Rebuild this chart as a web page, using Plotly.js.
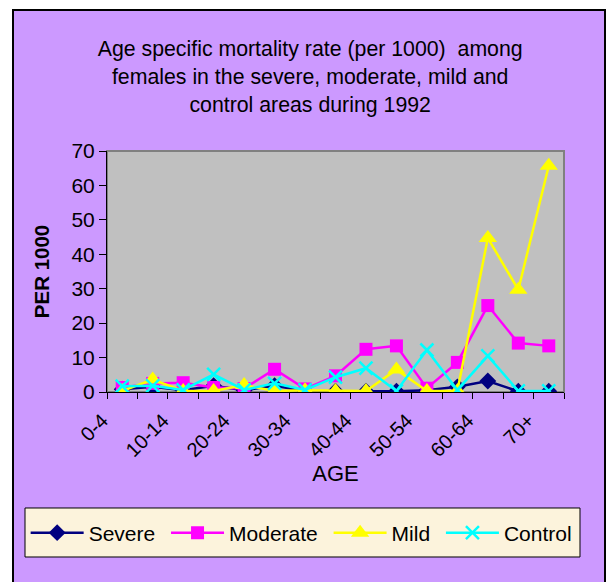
<!DOCTYPE html>
<html>
<head>
<meta charset="utf-8">
<script src="https://cdn.plot.ly/plotly-3.0.1.min.js"></script>
<style>
html,body{margin:0;padding:0;background:#ffffff;overflow:hidden;width:606px;height:582px;}
#frame{position:absolute;left:12px;top:9px;width:590px;height:580px;border:2px solid #000;}
#chart{width:590px;height:580px;}
</style>
</head>
<body>
<div id="frame"><div id="chart"></div></div>
<script>
const categories = ['0-4','5-9','10-14','15-19','20-24','25-29','30-34','35-39','40-44','45-49','50-54','55-59','60-64','65-69','70+'];
const tickLabels = ['0-4','','10-14','','20-24','','30-34','','40-44','','50-54','','60-64','','70+'];
const seriesNames = ['Severe', 'Moderate', 'Mild', 'Control'];
const severe   = [0.8, 1.5, 0.5, 1.8, 0.5, 1.8, 0.3, 0.2, 0.2, 0.2, 0.5, 1.5, 3.2, 0.2, 0.2];
const moderate = [1.3, 2.5, 2.7, 1.3, 1.0, 6.6, 0.9, 4.7, 12.4, 13.4, 1.1, 8.6, 25.1, 14.2, 13.4];
const mild     = [0.3, 3.6, 0.3, 0.3, 2.0, 0.3, 0.5, 0.3, 0.3, 6.5, 0.3, 0.3, 44.7, 29.7, 65.7];
const control  = [1.7, 1.8, 0.6, 5.1, 0.6, 2.5, 0.6, 4.3, 6.9, 0.3, 12.2, 0.6, 10.5, 0.3, 0.3];

const F = 'Arial, "Liberation Sans", sans-serif';
function tr(name, y, color, symbol, size, open, pad) {
  const m = {symbol: symbol, size: size, color: color};
  if (open) m.line = {color: color, width: 2.5};
  return {x: categories, y: y, name: name + (pad ? '\u00a0' : ''), type: 'scatter', mode: 'lines+markers',
    line: {color: color, width: 2.5}, marker: m};
}
const data = [
  tr(seriesNames[0], severe, '#000080', 'diamond', 13, false, true),
  tr(seriesNames[1], moderate, '#FF00FF', 'square', 13, false, true),
  tr(seriesNames[2], mild, '#FFFF00', 'triangle-up', 16, false, true),
  tr(seriesNames[3], control, '#00FFFF', 'x-thin', 13, true, false)
];
const layout = {
  width: 590, height: 580,
  paper_bgcolor: '#CC99FF', plot_bgcolor: '#C0C0C0',
  margin: {l: 93, r: 40, t: 140, b: 199},
  font: {family: F, color: '#000', size: 21},
  title: {text: 'Age specific mortality rate (per 1000)  among<br>females in the severe, moderate, mild and<br>control areas during 1992',
    font: {family: F, size: 21.3, color: '#000'}, xref: 'container', x: 0.502, xanchor: 'center',
    yref: 'container', y: 0.922, yanchor: 'top'},
  xaxis: {type: 'category', range: [-0.5, 14.5], tickmode: 'array', tickvals: categories, ticktext: tickLabels,
    tickson: 'boundaries', ticks: 'outside', ticklen: 6, tickcolor: '#000', tickwidth: 1,
    showline: true, linecolor: '#000', linewidth: 1, showgrid: false, zeroline: false,
    tickangle: -45, tickfont: {family: F, size: 20}, ticklabelshift: -20, ticklabelstandoff: 8,
    title: {text: 'AGE', font: {family: F, size: 22}, standoff: 4}},
  yaxis: {range: [0, 70], dtick: 10, ticks: 'outside', ticklen: 7, tickcolor: '#000', tickwidth: 1,
    showline: true, linecolor: '#000', linewidth: 1, showgrid: false, zeroline: false,
    tickfont: {family: F, size: 21},
    title: {text: '<b>PER 1000</b>', font: {family: F, size: 20.5}, standoff: 16}},
  shapes: [
    {type: 'rect', xref: 'paper', yref: 'paper', x0: 0, x1: 1, y0: 0, y1: 1,
      line: {color: '#808080', width: 2}, layer: 'below'},
    {type: 'rect', xref: 'paper', yref: 'paper', x0: -0.1794, x1: 1.035, y0: -0.6846, y1: -0.4813,
      line: {color: '#000', width: 1}, fillcolor: '#FCF3DC', layer: 'below'}
  ],
  legend: {orientation: 'h', x: -0.178, xanchor: 'left', y: -0.585, yanchor: 'middle',
    bgcolor: 'rgba(0,0,0,0)', borderwidth: 0, itemwidth: 53,
    font: {family: F, size: 21}},
  showlegend: true
};
Plotly.newPlot('chart', data, layout, {displayModeBar: false, staticPlot: true});
</script>
</body>
</html>
